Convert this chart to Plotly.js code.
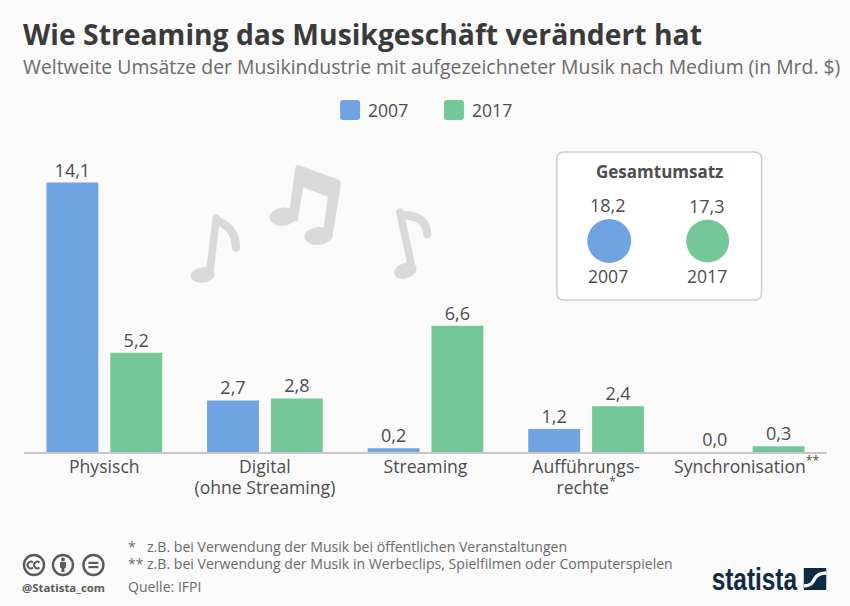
<!DOCTYPE html>
<html><head><meta charset="utf-8">
<script src="https://cdn.plot.ly/plotly-3.0.1.min.js"></script>
<style>html,body{margin:0;padding:0;background:#fafafa}</style></head>
<body><div id="chart" style="width:850px;height:606px"></div>
<script>
const categories = ['Physisch','Digital<br>(ohne Streaming)','Streaming','Aufführungs-<br>rechte<sup>*</sup>','Synchronisation<sup>**</sup>'];
const values2007 = [14.1,2.7,0.2,1.2,0.0];
const values2017 = [5.2,2.8,6.6,2.4,0.3];
const seriesNames = ['2007','2017'];
const totals = ['18,2','17,3'];
const blue = '#6fa3e2', green = '#74c799';
const W=850,H=606,L=23.5,R=22.5,T=130,B=154;
const px=x=>(x-L)/(W-L-R), py=y=>1-(y-T)/(H-T-B);
const FONT='"Open Sans", sans-serif';
const TXT='#4d4d4d', SOFT='#6b6b6b';
const ann=(x,y,text,size,color,anchor,extra)=>Object.assign({xref:'paper',yref:'paper',x:px(x),y:py(y),text,showarrow:false,xanchor:anchor||'center',yanchor:'middle',font:{family:FONT,size,color:color||TXT}},extra||{});
const rect=(x0,y0,x1,y1,r,fill,line,lw)=>({type:'path',xref:'paper',yref:'paper',fillcolor:fill,line:{color:line||fill,width:lw||0},
  path:`M${px(x0+r)},${py(y0)} L${px(x1-r)},${py(y0)} Q${px(x1)},${py(y0)} ${px(x1)},${py(y0+r)} L${px(x1)},${py(y1-r)} Q${px(x1)},${py(y1)} ${px(x1-r)},${py(y1)} L${px(x0+r)},${py(y1)} Q${px(x0)},${py(y1)} ${px(x0)},${py(y1-r)} L${px(x0)},${py(y0+r)} Q${px(x0)},${py(y0)} ${px(x0+r)},${py(y0)} Z`,layer:'below'});
const circ=(cx,cy,r,fill)=>({type:'circle',xref:'paper',yref:'paper',x0:px(cx-r),x1:px(cx+r),y0:py(cy+r),y1:py(cy-r),fillcolor:fill,line:{width:0}});
const svg=s=>'data:image/svg+xml;charset=utf-8,'+encodeURIComponent(s);
const img=(s,x,y,w,h)=>({source:svg(s),xref:'paper',yref:'paper',x:px(x),y:py(y),sizex:w/(W-L-R),sizey:h/(H-T-B),xanchor:'left',yanchor:'top',sizing:'stretch',layer:'below'});
const notesSvg=`<svg xmlns="http://www.w3.org/2000/svg" viewBox="0 0 840 420" width="840" height="420"><g fill="#d9d9d9" stroke="none">
<ellipse cx="97" cy="375" rx="36" ry="23" transform="rotate(-6 97 375)"/>
<path d="M385 45 L503 88 Q513 93 512 105 L487 260 L460 240 L473 140 L399 112 L382 215 L355 205 L375 55 Q377 44 385 45 Z"/>
<ellipse cx="338" cy="200" rx="40" ry="27" transform="rotate(-5 338 200)"/><ellipse cx="445" cy="258" rx="42" ry="27" transform="rotate(-5 445 258)"/>
<ellipse cx="706" cy="362" rx="35" ry="23" transform="rotate(-20 706 362)"/></g>
<g fill="none" stroke="#d9d9d9" stroke-linecap="round"><path d="M138 205 L118 370" stroke-width="23"/><path d="M145 215 Q197 235 197 293" stroke-width="25"/>
<path d="M690 187 L727 360" stroke-width="23"/><path d="M695 195 Q768 195 772 252" stroke-width="25"/></g></svg>`;
const ccSvg=`<svg xmlns="http://www.w3.org/2000/svg" viewBox="0 0 90 26" width="90" height="26"><g fill="none" stroke="#5a5a5a" stroke-width="2.4"><circle cx="12.5" cy="13" r="10"/><circle cx="41.5" cy="13" r="10"/><circle cx="72" cy="13" r="10"/></g>
<g fill="none" stroke="#5a5a5a" stroke-width="1.9"><path d="M11.5 10.5 A3.3 3.3 0 1 0 11.5 15.5"/><path d="M18 10.5 A3.3 3.3 0 1 0 18 15.5"/></g>
<g fill="#5a5a5a"><circle cx="41.5" cy="7.5" r="1.9"/><rect x="38.5" y="10" width="6" height="6" rx="1"/><rect x="40" y="15" width="3" height="5"/><rect x="67" y="9.8" width="10" height="2.2"/><rect x="67" y="14" width="10" height="2.2"/></g></svg>`;
const logoSvg=`<svg xmlns="http://www.w3.org/2000/svg" viewBox="0 0 23 22" width="23" height="22"><rect width="23" height="22" fill="#0f2a43"/><path d="M0 18 C7 18 9 15 11 11 C13 7 16 5 23 5" stroke="#fafafa" stroke-width="3.4" fill="none"/></svg>`;
const bar=(name,y,color)=>({type:'bar',name,x:categories,y,marker:{color,line:{width:0}},texttemplate:'%{y:.1f}',textposition:'outside',cliponaxis:false,
  textfont:{family:FONT,size:18,color:TXT},hoverinfo:'skip'});
Plotly.newPlot('chart',[bar(seriesNames[0],values2007,blue),bar(seriesNames[1],values2017,green)],{
  width:W,height:H,margin:{l:L,r:R,t:T,b:B,pad:0},paper_bgcolor:'#fafafa',plot_bgcolor:'rgba(0,0,0,0)',
  separators:',.',barmode:'group',bargap:0.205,bargroupgap:0.1875,showlegend:false,
  xaxis:{type:'category',range:[-0.5,4.5],showgrid:false,zeroline:false,showline:true,linecolor:'#c8c8c8',linewidth:1.5,ticks:'',tickangle:0,ticklabelstandoff:-2,tickfont:{family:FONT,size:17.6,color:TXT}},
  yaxis:{range:[0,322/19.11],visible:false,showgrid:false,zeroline:false},
  shapes:[rect(557,152,762,300,7,'#ffffff','#cfcfcf',1.5),rect(340,100,360,120,3,blue),rect(444,100,464,120,3,green),circ(609.5,241,22,blue),circ(708,241,21.5,green)],
  images:[img(notesSvg,170,150,280,140),img(ccSvg,21,552,90,26),img(logoSvg,804,568,23,22)],
  annotations:[
    ann(20,34,'<b>Wie Streaming das Musikgeschäft verändert hat</b>',28.3,'#3a3a3a','left'),
    ann(20,66,'Weltweite Umsätze der Musikindustrie mit aufgezeichneter Musik nach Medium (in Mrd. $)',19.4,SOFT,'left'),
    ann(366,110,seriesNames[0],17.6,TXT,'left'),ann(470,110,seriesNames[1],17.6,TXT,'left'),
    ann(660,171,'<b>Gesamtumsatz</b>',17,TXT),
    ann(608,205,totals[0],18,TXT),ann(707,206,totals[1],18,TXT),
    ann(608,276,seriesNames[0],17.6,TXT),ann(707,276,seriesNames[1],17.6,TXT),
    ann(126,546,'*',14,SOFT,'left'),ann(145,546,'z.B. bei Verwendung der Musik bei öffentlichen Veranstaltungen',14.1,SOFT,'left'),
    ann(126,563,'**',14,SOFT,'left'),ann(145,563,'z.B. bei Verwendung der Musik in Werbeclips, Spielfilmen oder Computerspielen',14.1,SOFT,'left'),
    ann(126,586,'Quelle: IFPI',14.1,SOFT,'left'),
    ann(19,587,'<b>@Statista_com</b>',11.4,'#5a5a5a','left'),
    ann(755,579,'<b>statista</b>',30,'#0f2a43','center',{font:{family:'"Liberation Sans",sans-serif',size:31,color:'#0f2a43'}})
  ]
},{displayModeBar:false,staticPlot:true}).then(gd=>{
  // the Statista wordmark is a condensed face: squeeze the real text to its width
  gd.querySelectorAll('.annotation-text').forEach(t=>{
    if(t.textContent==='statista'){const b=t.getBBox();const cx=b.x+b.width/2;
      t.setAttribute('transform',`translate(${cx},0) scale(${86/b.width},1) translate(${-cx},0)`);}
  });
  // tighter second line in the category labels, value labels slightly closer to the bars
  gd.querySelectorAll('.xtick text tspan.line').forEach((s,i)=>{
    const y=parseFloat(s.getAttribute('y'));
    const first=s.parentNode.querySelector('tspan.line');
    if(s!==first&&!isNaN(y)) s.setAttribute('y',y-2);
  });
  gd.querySelectorAll('.bars text.bartext').forEach(t=>{
    const tr=t.getAttribute('transform')||'';
    t.setAttribute('transform','translate(0,2) '+tr);
  });
});
</script></body></html>
